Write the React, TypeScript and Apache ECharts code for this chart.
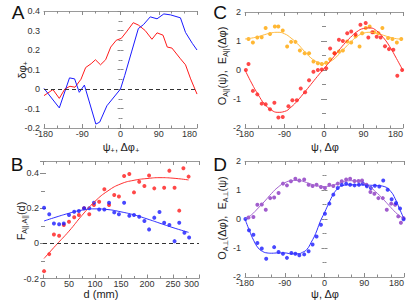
import React, { useEffect, useRef } from "react";
import * as echarts from "echarts";

// ---------- Panel A (lines) ----------
const A_BLUE_X = [-180, -144, -120, -108, -97, -85, -58, -49, -32, 0, 10, 26, 42, 54, 70, 86, 102, 118, 141, 153, 169, 180];
const A_BLUE_Y = [0.003, -0.097, 0.057, 0.052, -0.017, 0.02, -0.18, -0.17, -0.086, 0, 0.07, 0.19, 0.31, 0.33, 0.37, 0.36, 0.385, 0.38, 0.365, 0.29, 0.234, 0.2];
const A_RED_X = [-180, -159, -144, -131, -119, -107, -93, -82, -69, -59, -47, -35, -23, -10, 2, 14, 30, 42, 58, 74, 86, 100, 110, 121, 141, 153, 165, 180];
const A_RED_Y = [-0.034, -0.003, -0.048, 0, 0.014, 0.009, 0.05, 0.11, 0.13, 0.15, 0.124, 0.15, 0.215, 0.25, 0.26, 0.293, 0.34, 0.328, 0.3, 0.255, 0.288, 0.276, 0.215, 0.21, 0.155, 0.124, 0.052, -0.026];

// ---------- Panel B (scatter + fits) ----------
const B_RED_X = [2, 12, 21, 31, 40, 50, 60, 69, 79, 89, 98, 108, 118, 127, 137, 146, 156, 166, 175, 185, 195, 204, 214, 233, 243, 253, 262, 270, 280];
const B_RED_Y = [-0.158, -0.061, 0.051, 0.044, 0.105, 0.124, 0.149, 0.162, 0.2, 0.166, 0.219, 0.238, 0.309, 0.219, 0.276, 0.267, 0.385, 0.396, 0.291, 0.352, 0.328, 0.387, 0.314, 0.318, 0.415, 0.318, 0.187, 0.429, 0.381];
const B_BLUE_X = [2, 12, 21, 31, 40, 50, 60, 69, 79, 89, 98, 108, 118, 127, 137, 146, 156, 166, 175, 185, 195, 204, 214, 224, 233, 243, 253, 262, 272, 281];
const B_BLUE_Y = [0.204, 0.166, 0.114, 0.109, 0.114, 0.162, 0.181, 0.185, 0.2, 0.2, 0.232, 0.194, 0.194, 0.232, 0.177, 0.166, 0.232, 0.158, 0.162, 0.152, 0.128, 0.08, 0.147, 0.179, 0.118, 0.105, 0.013, 0.118, 0.061, 0.034];
const B_FIT_X = [2, 25, 50, 75, 100, 125, 150, 175, 200, 225, 250, 280];
const B_RED_FIT_Y = [-0.086, -0.01, 0.07, 0.16, 0.24, 0.3, 0.34, 0.36, 0.37, 0.375, 0.372, 0.362];
const B_BLUE_FIT_Y = [0.128, 0.15, 0.172, 0.19, 0.197, 0.193, 0.18, 0.163, 0.14, 0.115, 0.09, 0.063];

// ---------- Panel C ----------
const C_RED_X = [-178, -172, -162, -152, -142, -133, -123, -113, -104, -94, -81, -72, -62, -53, -43, -34, -24, -14, -5, 5, 14, 24, 34, 43, 53, 62, 72, 83, 95, 101, 110, 120, 129, 139, 148, 158, 167, 178];
const C_RED_Y = [0, 0.21, -0.72, -0.84, -1.16, -1.18, -1.35, -1.13, -1.64, -1.62, -1.25, -1.04, -1.04, -0.64, -0.77, -0.35, -0.06, 0.0, 0.02, 0.06, 0.74, 0.58, 1.04, 1.0, 1.27, 1.33, 1.22, 1.56, 1.62, 1.12, 1.3, 1.15, 1.12, 0.82, 0.72, 0.7, -0.2, 0];
const C_ORG_X = [-172, -162, -152, -142, -133, -123, -112, -104, -94, -84, -75, -65, -55, -44, -34, -24, -14, -5, 5, 14, 24, 34, 43, 53, 62, 72, 81, 87, 95, 104, 114, 124, 133, 146, 156, 166, 176];
const C_ORG_Y = [1.07, 0.95, 1.12, 1.13, 1.45, 1.24, 1.5, 1.5, 1.36, 0.81, 0.97, 0.97, 0.67, 0.58, 0.58, 0.29, 0.23, 0.21, 0.25, 0.37, 0.58, 0.64, 0.67, 0.98, 0.95, 1.16, 0.81, 1.27, 1.45, 1.5, 1.3, 1.27, 1.45, 1.1, 1.07, 0.95, 1.07];
const ANG_FIT_X = [-180, -165, -150, -135, -120, -105, -90, -75, -60, -45, -30, -15, 0, 15, 30, 45, 60, 75, 90, 105, 120, 135, 150, 165, 180];
const C_ORG_FIT_Y = [1.07, 1.1, 1.15, 1.22, 1.28, 1.3, 1.25, 1.1, 0.9, 0.65, 0.42, 0.27, 0.22, 0.3, 0.48, 0.72, 0.95, 1.15, 1.27, 1.3, 1.27, 1.2, 1.13, 1.08, 1.06];
const C_RED_FIT_Y = [0, -0.45, -0.85, -1.18, -1.38, -1.46, -1.43, -1.28, -1.05, -0.78, -0.5, -0.22, 0.05, 0.32, 0.6, 0.88, 1.12, 1.32, 1.43, 1.45, 1.35, 1.12, 0.8, 0.4, -0.02];

// ---------- Panel D ----------
const D_PUR_X = [-172, -161, -152, -142, -133, -123, -114, -104, -94, -85, -76, -66, -57, -46, -36, -27, -18, -8, 1, 11, 20, 30, 39, 49, 58, 68, 77, 85, 95, 104, 113, 122, 132, 141, 151, 160, 167, 173, 179];
const D_PUR_Y = [0.05, 0.07, 0.49, 0.5, 0.32, 0.72, 0.74, 0.9, 1.22, 1.16, 1.3, 1.39, 1.33, 1.36, 1.18, 1.14, 1.18, 1.1, 1.07, 1.18, 1.14, 1.22, 1.3, 1.36, 1.39, 1.31, 1.31, 1.33, 1.18, 0.93, 0.87, 0.72, 0.72, 0.32, 0.53, 0.49, 0.09, -0.13, 0.03];
const D_BLUE_X = [-179, -171, -161, -152, -142, -132, -114, -104, -94, -85, -75, -66, -57, -46, -36, -27, -18, -8, 1, 11, 20, 30, 39, 49, 58, 68, 78, 87, 96, 105, 114, 124, 133, 143, 152, 162, 171, 179];
const D_BLUE_Y = [0, -0.39, -0.54, -0.83, -1.02, -1.37, -0.97, -1.14, -1.2, -1.34, -1.17, -1.2, -1.25, -1.22, -1.11, -0.88, -0.6, -0.2, 0.18, 0.53, 0.84, 1.07, 1.18, 1.22, 1.18, 1.16, 1.18, 1.22, 1.13, 1.07, 1.15, 1.12, 1.33, 1.01, 0.68, 0.55, 0.36, -0.01];
const D_PUR_FIT_Y = [0, 0.15, 0.38, 0.62, 0.88, 1.1, 1.25, 1.32, 1.33, 1.28, 1.2, 1.14, 1.12, 1.15, 1.22, 1.29, 1.32, 1.3, 1.22, 1.08, 0.88, 0.65, 0.4, 0.17, 0];
const D_BLUE_FIT_X = [-180, -170, -160, -150, -140, -130, -120, -105, -90, -75, -60, -50, -40, -30, -20, -10, 0, 10, 20, 30, 40, 60, 90, 120, 135, 150, 160, 170, 180];
const D_BLUE_FIT_Y = [0, -0.4, -0.75, -1.0, -1.12, -1.17, -1.18, -1.17, -1.17, -1.2, -1.2, -1.15, -1.05, -0.8, -0.5, -0.1, 0.22, 0.55, 0.85, 1.05, 1.15, 1.18, 1.17, 1.15, 1.12, 0.95, 0.7, 0.35, 0];

const zip = (xs: number[], ys: number[]) => xs.map((x, i) => [x, ys[i]]);

const FONT = "'Liberation Sans', Arial, sans-serif";
const AXIS_GRAY = "#9a9a9a";
const TICK_GRAY = "#8a8a8a";

function xAxes(grid: number, min: number, max: number, interval: number, minorSplit: number) {
  const common = {
    gridIndex: grid,
    type: "value",
    min,
    max,
    interval,
    splitLine: { show: false },
    axisLine: { show: true, onZero: false, lineStyle: { color: AXIS_GRAY, width: 1 } },
    axisTick: { show: true, inside: true, length: 4, lineStyle: { color: TICK_GRAY } },
    minorTick: { show: true, splitNumber: minorSplit, length: 2.5, lineStyle: { color: TICK_GRAY } },
    minorSplitLine: { show: false },
  };
  return [
    {
      ...common,
      position: "bottom",
      axisLabel: { fontSize: 9, color: "#333", margin: 1, fontFamily: FONT, alignMaxLabel: "right" },
    },
    { ...common, position: "top", axisLabel: { show: false } },
  ];
}

function yAxes(grid: number, min: number, max: number, interval: number, minorSplit: number, fmt?: (v: number) => string) {
  const common = {
    gridIndex: grid,
    type: "value",
    min,
    max,
    interval,
    splitLine: { show: false },
    axisLine: { show: false },
    axisTick: { show: true, inside: true, length: 3, lineStyle: { color: TICK_GRAY } },
    minorTick: { show: true, splitNumber: minorSplit, length: 2, lineStyle: { color: TICK_GRAY } },
  };
  return [
    {
      ...common,
      position: "left",
      axisLabel: { fontSize: 9, color: "#333", margin: 4, fontFamily: FONT, formatter: fmt },
    },
    { ...common, position: "right", axisLabel: { show: false } },
  ];
}

const zeroLine = {
  silent: true,
  symbol: "none",
  label: { show: false },
  lineStyle: { color: "#333", type: [4, 3], width: 1 },
  data: [{ yAxis: 0 }],
};

function scatter(grid: number, data: number[][], color: string) {
  return {
    type: "scatter",
    xAxisIndex: grid * 2,
    yAxisIndex: grid * 2,
    data,
    symbolSize: 4,
    itemStyle: { color },
  };
}

function line(grid: number, data: number[][], color: string, smooth: boolean, extra: any = {}) {
  return {
    type: "line",
    xAxisIndex: grid * 2,
    yAxisIndex: grid * 2,
    data,
    smooth,
    showSymbol: false,
    symbol: "none",
    lineStyle: { color, width: 1 },
    ...extra,
  };
}

function title(x: number, y: number, text: string, rotate = false) {
  return {
    type: "text",
    x,
    y,
    rotation: rotate ? Math.PI / 2 : 0,
    style: {
      text,
      align: "center",
      verticalAlign: "middle",
      fill: "#222",
      font: `11px ${FONT}`,
      rich: {
        n: { fontSize: 11, fontFamily: FONT, lineHeight: 14, fill: "#222" },
        s: { fontSize: 7, fontFamily: FONT, lineHeight: 7, verticalAlign: "bottom", fill: "#222" },
      },
    },
  };
}

function letter(x: number, y: number, text: string) {
  return {
    type: "text",
    x,
    y,
    style: { text, align: "center", verticalAlign: "middle", fill: "#111", font: `19px ${FONT}` },
  };
}

export default function App() {
  const ref = useRef<HTMLDivElement>(null);
  useEffect(() => {
    if (!ref.current) return;
    document.body.style.margin = "0";
    const chart = echarts.init(ref.current, undefined, { renderer: "svg" });
    const bFmt = (v: number) => {
      const r = Math.round(v * 10) / 10;
      if (Math.abs(v - r) > 1e-6 || Math.round(r * 10) % 2 !== 0) return "";
      return r === 0 ? "0" : String(r);
    };
    const option: any = {
      animation: false,
      textStyle: { fontFamily: FONT },
      grid: [
        { left: 44, top: 11, width: 153, height: 117 },
        { left: 43, top: 161, width: 156, height: 117.5 },
        { left: 245, top: 12, width: 158, height: 116 },
        { left: 245, top: 161, width: 159, height: 116 },
      ],
      xAxis: [
        ...xAxes(0, -180, 180, 90, 3),
        ...xAxes(1, 0, 300, 50, 2),
        ...xAxes(2, -180, 180, 90, 3),
        ...xAxes(3, -180, 180, 90, 3),
      ],
      yAxis: [
        ...yAxes(0, -0.2, 0.4, 0.1, 2),
        ...yAxes(1, -0.2, 0.47, 0.2, 2, bFmt),
        ...yAxes(2, -2, 2, 1, 2),
        ...yAxes(3, -2, 2, 1, 2),
      ],
      series: [
        line(0, zip(A_RED_X, A_RED_Y), "#ff1a1a", false, { markLine: zeroLine }),
        line(0, zip(A_BLUE_X, A_BLUE_Y), "#1a1aff", false),

        line(1, zip(B_FIT_X, B_RED_FIT_Y), "#ff3030", true, { markLine: zeroLine }),
        line(1, zip(B_FIT_X, B_BLUE_FIT_Y), "#3030ff", true),
        scatter(1, zip(B_RED_X, B_RED_Y), "#ff1a1a"),
        scatter(1, zip(B_BLUE_X, B_BLUE_Y), "#1a1aff"),

        line(2, zip(ANG_FIT_X, C_ORG_FIT_Y), "#ffbb40", true),
        line(2, zip(ANG_FIT_X, C_RED_FIT_Y), "#ff3030", true),
        scatter(2, zip(C_ORG_X, C_ORG_Y), "#ffa500"),
        scatter(2, zip(C_RED_X, C_RED_Y), "#ff1a1a"),

        line(3, zip(ANG_FIT_X, D_PUR_FIT_Y), "#a565d0", true),
        line(3, zip(D_BLUE_FIT_X, D_BLUE_FIT_Y), "#3030ff", true),
        scatter(3, zip(D_PUR_X, D_PUR_Y), "#8a35c0"),
        scatter(3, zip(D_BLUE_X, D_BLUE_Y), "#1a1aff"),
      ],
      graphic: [
        letter(18, 12, "A"),
        letter(17, 164, "B"),
        letter(220, 12, "C"),
        letter(220, 164, "D"),
        title(121, 147, "{n|ψ}{s|+}{n|, Δφ}{s|+}"),
        title(101, 294, "{n|d (mm)}"),
        title(325, 147, "{n|ψ, Δφ}"),
        title(325, 294, "{n|ψ, Δφ}"),
        title(22, 70, "{n|δφ}{s|+}", true),
        title(21, 221, "{n|F}{s|A||,A||}{n|(d)}", true),
        title(222, 66, "{n|O}{s|A||}{n|(ψ),  E}{s|A||}{n|(Δφ)}", true),
        title(222, 218, "{n|O}{s|A⊥}{n|(Δφ),  E}{s|A⊥}{n|(ψ)}", true),
      ],
    };
    chart.setOption(option);
    return () => chart.dispose();
  }, []);
  return <div ref={ref} style={{ position: "absolute", left: 0, top: 0, width: 415, height: 305 }} />;
}
